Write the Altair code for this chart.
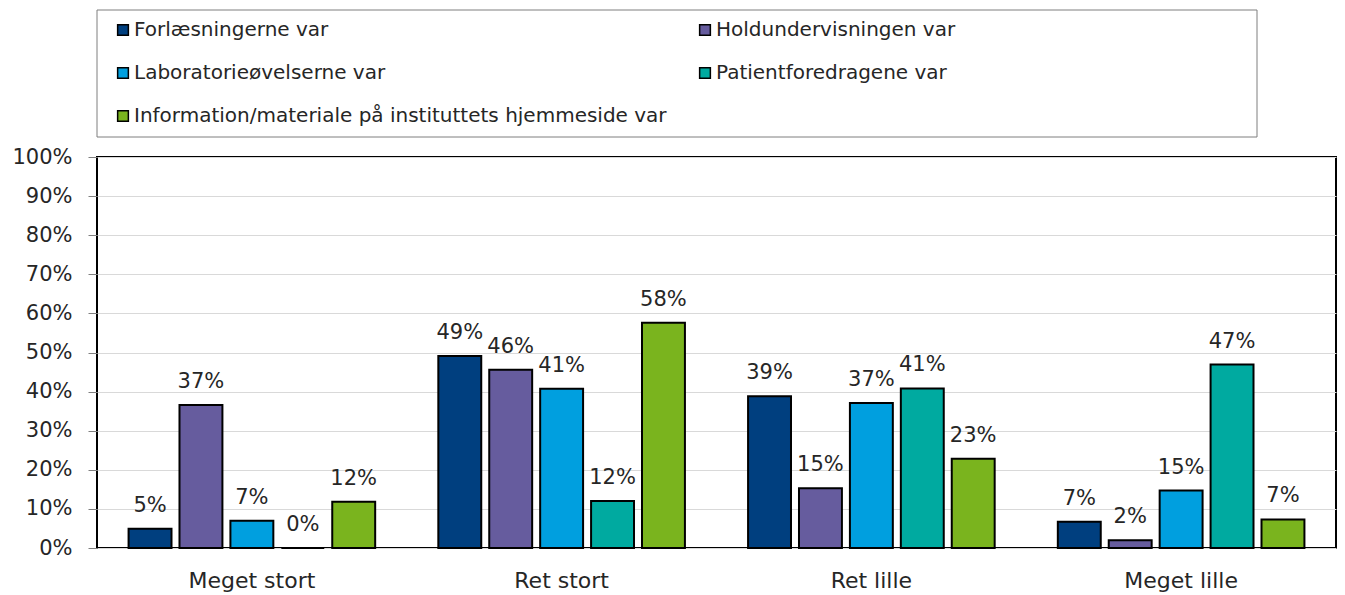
import altair as alt
import pandas as pd

categories = ["Meget stort", "Ret stort", "Ret lille", "Meget lille"]
series = [
    "Forlæsningerne var",
    "Holdundervisningen var",
    "Laboratorieøvelserne var",
    "Patientforedragene var",
    "Information/materiale på instituttets hjemmeside var",
]
colors = ["#003f7f", "#665c9e", "#009fdf", "#00aaa0", "#7ab41e"]

forlaesning = [4.9, 49.1, 38.8, 6.7]
holdundervisning = [36.6, 45.6, 15.3, 2.0]
laboratorie = [7.0, 40.7, 37.1, 14.7]
patientforedrag = [0.0, 12.0, 40.8, 46.9]
information = [11.8, 57.6, 22.8, 7.3]

y_ticks = [i / 10 for i in range(11)]

all_values = [forlaesning, holdundervisning, laboratorie, patientforedrag, information]
rows = []
for s, vals in zip(series, all_values):
    for c, v in zip(categories, vals):
        rows.append({"kategori": c, "serie": s, "andel": v / 100})
df = pd.DataFrame(rows)

FONT = "DejaVu Sans"
TXT = "#262626"

x_enc = alt.X(
    "kategori:N",
    sort=categories,
    title=None,
    scale=alt.Scale(paddingInner=0, paddingOuter=0),
    axis=alt.Axis(labelAngle=0, ticks=False, domain=False, labelPadding=22,
                  labelFontSize=22, labelColor=TXT, labelFont=FONT),
)
xoff_enc = alt.XOffset(
    "serie:N", sort=series,
    scale=alt.Scale(paddingInner=0.157, paddingOuter=0.62),
)
y_enc = alt.Y(
    "andel:Q",
    title=None,
    scale=alt.Scale(domain=[0, 1], nice=False),
    axis=alt.Axis(format=".0%", values=y_ticks, tickSize=9, labelOverlap=False,
                  tickColor="#7f7f7f", domain=False, labelPadding=16,
                  labelFontSize=21, labelColor=TXT, labelFont=FONT,
                  gridColor="#d9d9d9", gridWidth=1),
)

bars = alt.Chart(df).mark_bar(stroke="black", strokeWidth=2).encode(
    x=x_enc,
    xOffset=xoff_enc,
    y=y_enc,
    color=alt.Color(
        "serie:N",
        sort=series,
        scale=alt.Scale(domain=series, range=colors),
        legend=alt.Legend(
            orient="none", legendX=16, legendY=-137, columns=2, direction="horizontal",
            title=None, symbolType="square", symbolSize=115, symbolStrokeColor="black",
            symbolStrokeWidth=1.5, labelFontSize=20, labelFont=FONT, labelColor=TXT,
            rowPadding=23, columnPadding=28, gridAlign="all", labelOffset=1,
            padding=0, labelLimit=800,
        ),
    ),
)

labels = alt.Chart(df).mark_text(
    baseline="alphabetic", dy=-17, fontSize=21, font=FONT, color=TXT
).encode(
    x=x_enc,
    xOffset=xoff_enc,
    y=y_enc,
    text=alt.Text("andel:Q", format=".0%"),
)

frame = alt.Chart(pd.DataFrame({"k": [0]})).mark_rect(
    fill="white", stroke="#7f7f7f", strokeWidth=1
).encode(
    x=alt.value(0), x2=alt.value(1160), y=alt.value(-147), y2=alt.value(-20)
)

chart = alt.layer(frame, bars, labels).properties(
    width=1239, height=391,
    autosize=alt.AutoSizeParams(type="none"),
    padding={"left": 89, "top": 149, "right": 1, "bottom": 46},
    background="white",
).configure_view(stroke="black", strokeWidth=2)

chart.save("out.html", embed_options={"renderer": "svg", "actions": False})
